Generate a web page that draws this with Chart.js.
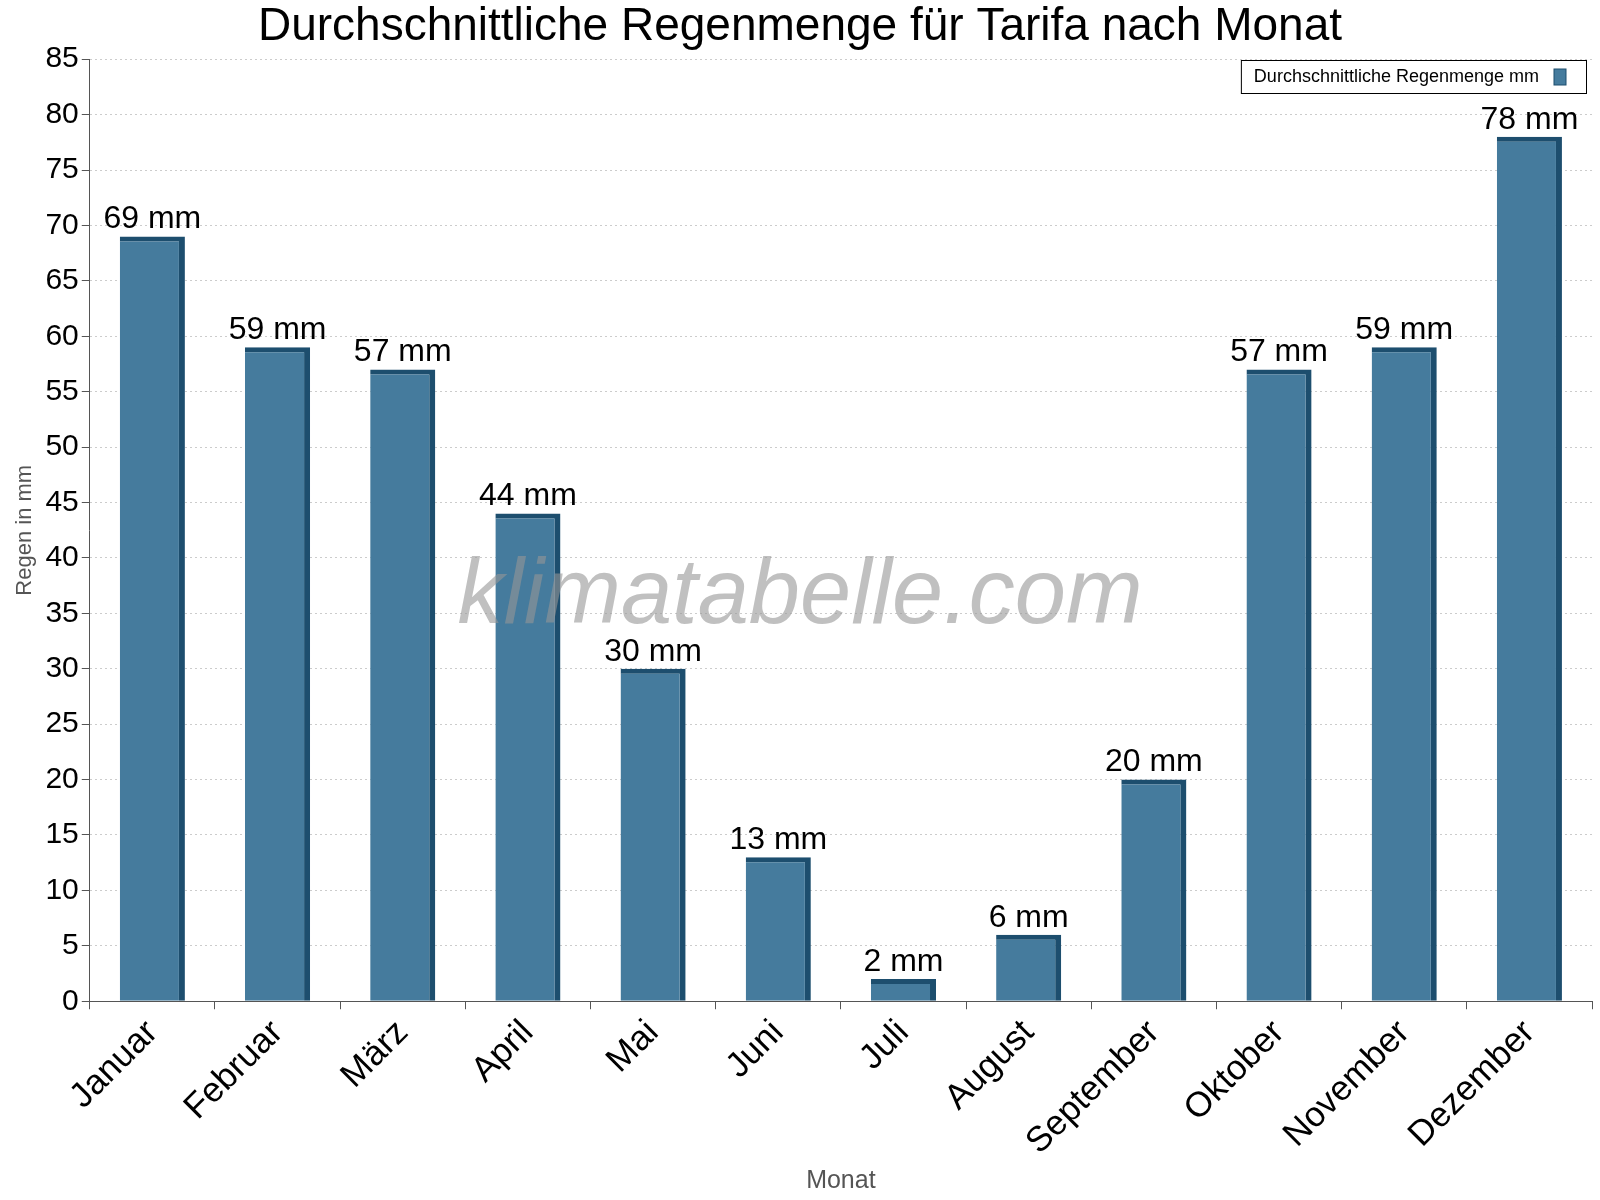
<!DOCTYPE html>
<html>
<head>
<meta charset="utf-8">
<script src="https://cdn.jsdelivr.net/npm/chart.js@4"></script>
<style>body{margin:0;background:#fff}</style>
</head>
<body>
<canvas id="c" width="1600" height="1200"></canvas>
<script>
// Daten
const monate = ['Januar','Februar','März','April','Mai','Juni','Juli','August','September','Oktober','November','Dezember'];
const regen = [69, 59, 57, 44, 30, 13, 2, 6, 20, 57, 59, 78];
const titel = 'Durchschnittliche Regenmenge für Tarifa nach Monat';
const legendeText = 'Durchschnittliche Regenmenge mm';

// Beschriftung, Wasserzeichen und Legende
const extras = {
    id: 'extras',
    afterDatasetsDraw(chart) {
        const { ctx, chartArea: a } = chart;
        const meta = chart.getDatasetMeta(0);
        ctx.save();
        ctx.font = 'italic 92px "Liberation Sans", Arial';
        ctx.fillStyle = 'rgba(150,150,150,0.6)';
        ctx.textAlign = 'center';
        ctx.textBaseline = 'middle';
        ctx.fillText('klimatabelle.com', 800, 597);

        ctx.font = '32px "Liberation Sans", Arial';
        ctx.fillStyle = '#000';
        ctx.textBaseline = 'bottom';
        meta.data.forEach((bar, i) => {
            ctx.fillText(regen[i] + ' mm', bar.x, bar.y - 1);
        });
        // Legende
        ctx.font = '18px "Liberation Sans", Arial';
        const w = ctx.measureText(legendeText).width;
        const bw = w + 60;
        const bx = a.right - bw - 6, by = 60;
        ctx.fillStyle = '#fff';
        ctx.fillRect(bx, by, bw, 33);
        ctx.strokeStyle = '#000';
        ctx.lineWidth = 1;
        ctx.strokeRect(bx + 0.5, by + 0.5, bw, 33);
        ctx.fillStyle = '#000';
        ctx.textAlign = 'left';
        ctx.textBaseline = 'middle';
        ctx.fillText(legendeText, bx + 13, by + 17);
        ctx.fillStyle = '#457b9d';
        ctx.fillRect(bx + 13 + w + 15, by + 9, 12, 16);
        ctx.strokeStyle = '#1d4e6e';
        ctx.strokeRect(bx + 13 + w + 15, by + 9, 12, 16);
        ctx.restore();
    }
};

new Chart(document.getElementById('c'), {
    type: 'bar',
    data: {
        labels: monate,
        datasets: [{
            label: legendeText,
            data: regen,
            backgroundColor: '#457b9d',
            borderColor: '#1d4e6e',
            borderWidth: { top: 5, right: 6, left: 0, bottom: 0 },
            borderSkipped: false,
            barPercentage: 0.52,
            categoryPercentage: 1
        }]
    },
    options: {
        responsive: false,
        animation: false,
        layout: { padding: { left: 8, right: 8, top: 0, bottom: 0 } },
        plugins: {
            legend: { display: false },
            tooltip: { enabled: false },
            title: { display: true, text: titel, color: '#000', font: { size: 46, family: '"Liberation Sans", Arial', weight: 'normal' }, padding: { top: 0, bottom: 4 } }
        },
        scales: {
            x: {
                grid: { offset: true, drawOnChartArea: false, color: '#555', tickLength: 8 },
                border: { color: '#555' },
                ticks: { color: '#000', maxRotation: 45, minRotation: 45, font: { size: 35, family: '"Liberation Sans", Arial' } },
                title: { display: true, text: 'Monat', color: '#555', font: { size: 25, family: '"Liberation Sans", Arial' }, padding: { top: 0 } }
            },
            y: {
                min: 0, max: 85,
                ticks: { stepSize: 5, color: '#000', font: { size: 30, family: '"Liberation Sans", Arial' } },
                grid: { color: '#ccc', tickLength: 8, tickColor: '#555' },
                border: { color: '#555', dash: [2, 3] },
                title: { display: true, text: 'Regen in mm', color: '#555', font: { size: 22, family: '"Liberation Sans", Arial' } }
            }
        }
    },
    plugins: [extras]
});
</script>
</body>
</html>
